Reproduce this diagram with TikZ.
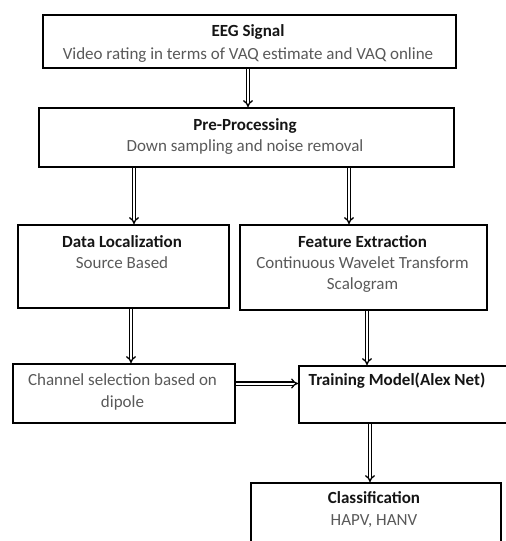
\documentclass[tikz,border=0pt]{standalone}
\usepackage{fontspec}
\setmainfont{Carlito}
\usetikzlibrary{arrows.meta,calc}
\definecolor{subgray}{HTML}{595959}
\definecolor{ttl}{HTML}{151515}
\begin{document}
\begin{tikzpicture}[x=1pt,y=-1pt,
  box/.style={draw=black,line width=2pt,anchor=north west,inner sep=0pt},
  ttlstyle/.style={font=\bfseries\fontsize{17}{19}\selectfont,text=ttl,inner sep=0pt,anchor=base},
  substyle/.style={font=\fontsize{17}{19}\selectfont,text=subgray,inner sep=0pt,anchor=base},
  arr/.style={double=white,draw=black,line width=1.3pt,double distance=2pt,-{Implies[length=3.5pt]}}]
\useasboundingbox (0,0) rectangle (506,541);
\begin{scope}
\clip (0,0) rectangle (506,541);
\node[box,minimum width=413pt,minimum height=53pt] (eeg) at (42,14) {};
\node[box,minimum width=415pt,minimum height=59pt] (pre) at (38,107) {};
\node[box,minimum width=211pt,minimum height=83pt] (dl) at (17,224) {};
\node[box,minimum width=247pt,minimum height=85pt] (fe) at (239,224) {};
\node[box,minimum width=222pt,minimum height=59pt] (ch) at (12,363) {};
\node[box,minimum width=212pt,minimum height=57pt] (tr) at (298,365) {};
\node[box,minimum width=250pt,minimum height=70pt] (cl) at (250,482) {};
\end{scope}
% texts
\node[ttlstyle] (eegt) at (248,36) {EEG Signal};
\node[substyle] (eegs) at (248,59) {Video rating in terms of VAQ estimate and VAQ online};
\node[ttlstyle] (pret) at (245,130) {Pre-Processing};
\node[substyle] (pres) at (245,151) {Down sampling and noise removal};
\node[ttlstyle] (dlt) at (122,247) {Data Localization};
\node[substyle] (dls) at (122,268) {Source Based};
\node[ttlstyle] (fet) at (362.5,247) {Feature Extraction};
\node[substyle] (fes1) at (362.5,268) {Continuous Wavelet Transform};
\node[substyle] (fes2) at (362.5,289) {Scalogram};
\node[substyle] (chs1) at (122.5,385) {Channel selection based on};
\node[substyle] (chs2) at (122.5,407) {dipole};
\node[ttlstyle] (trt) at (397,385) {Training Model(Alex Net)};
\node[ttlstyle] (clt) at (374,503) {Classification};
\node[substyle] (cls) at (374,525) {HAPV, HANV};
% arrows
\draw[arr] ([xshift=1.5pt]pre.north |- eeg.south) -- ([xshift=1.5pt]pre.north);
\draw[arr] ([xshift=10.5pt]dl.north |- pre.south) -- ([xshift=10.5pt]dl.north);
\draw[arr] ([xshift=-14.5pt]fe.north |- pre.south) -- ([xshift=-14.5pt]fe.north);
\draw[arr] ([xshift=7.5pt]dl.south) -- ([xshift=7.5pt]dl.south |- ch.north);
\draw[arr] ([xshift=3.5pt]fe.south) -- ([xshift=3.5pt]fe.south |- tr.north);
\draw[arr] ([yshift=10pt]ch.east) -- ([yshift=10pt]ch.east -| tr.west);
\draw[arr] ([xshift=-35pt]tr.south) -- ([xshift=-35pt]tr.south |- cl.north);
\end{tikzpicture}
\end{document}
